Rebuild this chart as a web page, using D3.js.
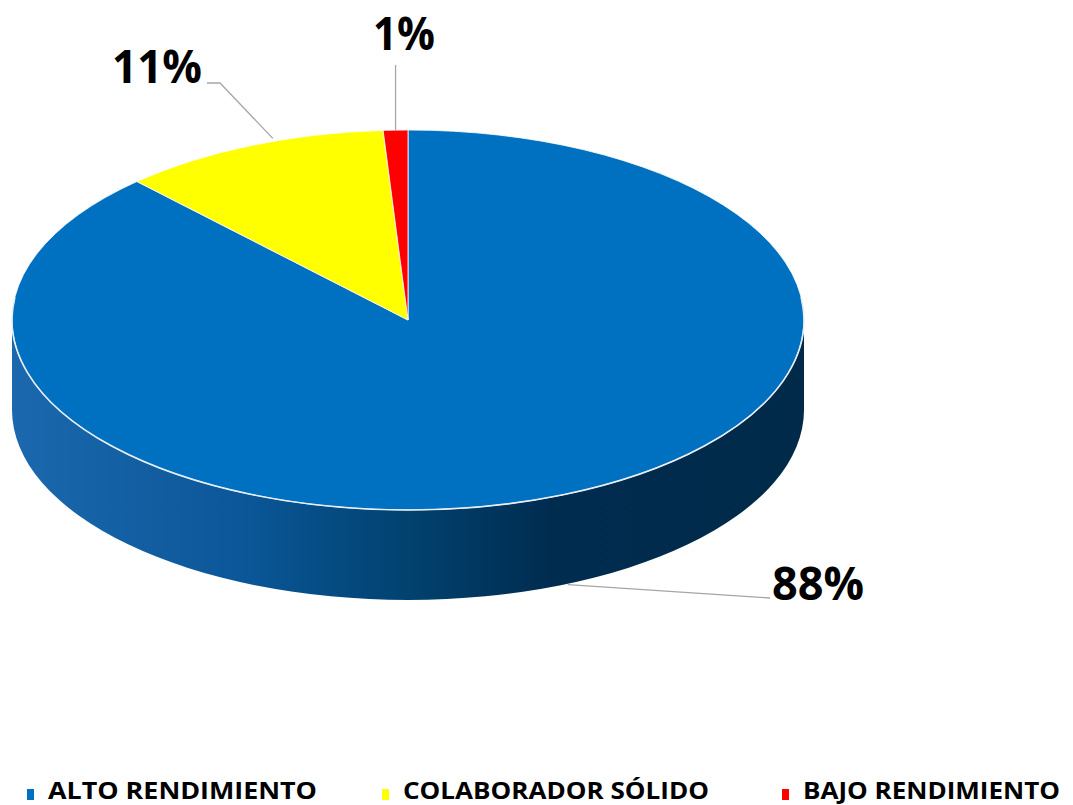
<!DOCTYPE html>
<html>
<head>
<meta charset="utf-8">
<script src="https://cdn.jsdelivr.net/npm/d3@7"></script>
<style>
  html, body { margin: 0; padding: 0; background: #ffffff; }
  svg { display: block; }
  text { font-family: "Open Sans", "Liberation Sans", sans-serif; font-weight: 700; fill: #000; }
</style>
</head>
<body>
<svg id="chart" width="1073" height="805"></svg>
<script>
// Performance distribution
const categories = ["ALTO RENDIMIENTO", "COLABORADOR SÓLIDO", "BAJO RENDIMIENTO"];
const shares = [88, 11, 1];
const shareLabels = ["88%", "11%", "1%"];
const sliceColors = ["#0070C0", "#FFFF00", "#FF0000"];

const svg = d3.select("#chart");

// Ellipse geometry of the tilted pie
const cx = 408, cy = 320, rx = 396, ry = 190, depth = 90;

const color = d3.scaleOrdinal().domain(categories).range(sliceColors);
const sideColor = d3.scaleOrdinal().domain(categories).range(["#0a5aa0", "#b8b800", "#b00000"]);

const pie = d3.pie().sort(null).startAngle(0).endAngle(2 * Math.PI).value(d => d.v);
const arcs = pie(categories.map((c, i) => ({ c, v: shares[i], label: shareLabels[i] })));

const pt = (a, dy = 0) => [cx + rx * Math.sin(a), cy - ry * Math.cos(a) + dy];

// Horizontal shading for the rim
const defs = svg.append("defs");
const grad = defs.append("linearGradient")
  .attr("id", "rimShade").attr("gradientUnits", "userSpaceOnUse")
  .attr("x1", cx - rx).attr("x2", cx + rx).attr("y1", 0).attr("y2", 0);
[[0, "#1c68ae"], [0.3, "#0a5697"], [0.5, "#01426f"], [0.68, "#002c50"], [1, "#002a48"]]
  .forEach(([o, c]) => grad.append("stop").attr("offset", o).attr("stop-color", c));

// Side walls: only the part of each slice facing the viewer (angles between 90° and 270°)
const front0 = Math.PI / 2, front1 = 3 * Math.PI / 2;
const sides = arcs.map(d => {
  const a0 = Math.max(d.startAngle, front0), a1 = Math.min(d.endAngle, front1);
  return a1 > a0 ? { d, a0, a1 } : null;
}).filter(Boolean);

function sidePath(a0, a1) {
  const p0 = pt(a0), p1 = pt(a1), q1 = pt(a1, depth), q0 = pt(a0, depth);
  const large = (a1 - a0) > Math.PI + 1e-9 ? 1 : 0;
  return `M${p0}A${rx},${ry} 0 ${large} 1 ${p1}L${q1}A${rx},${ry} 0 ${large} 0 ${q0}Z`;
}

svg.append("g").selectAll("path").data(sides).join("path")
  .attr("d", s => sidePath(s.a0, s.a1))
  .attr("fill", s => s.d.data.c === categories[0] ? "url(#rimShade)" : sideColor(s.d.data.c));

// Top face slices
function topPath(d) {
  const p0 = pt(d.startAngle), p1 = pt(d.endAngle);
  const large = (d.endAngle - d.startAngle) > Math.PI ? 1 : 0;
  return `M${cx},${cy}L${p0}A${rx},${ry} 0 ${large} 1 ${p1}Z`;
}
svg.append("g").selectAll("path").data(arcs).join("path")
  .attr("d", topPath)
  .attr("fill", d => color(d.data.c))
  .attr("stroke", "#ffffff").attr("stroke-width", 0.8).attr("stroke-linejoin", "round");

// Light edge along the front rim
svg.append("path")
  .attr("d", `M${pt(front0 - 0.12)}A${rx},${ry} 0 1 1 ${pt(front1 + 0.12)}`)
  .attr("fill", "none").attr("stroke", "#e8eef5").attr("stroke-width", 1.6);

// Data labels with leader lines
const labelLayout = [
  { dy: depth, shift: 0, pts: [[770, 598]], text: [772, 600], anchor: "start", width: 92 },
  { dy: 0, shift: 0.06, pts: [[220, 83], [207, 83]], text: [202, 83], anchor: "end", width: 90 },
  { dy: 0, shift: 0, pts: null, text: [404, 50], anchor: "middle", width: 62, vertical: 65 }
];

const lg = svg.append("g");
arcs.forEach((d, i) => {
  const L = labelLayout[i];
  const mid = (d.startAngle + d.endAngle) / 2 + L.shift;
  const start = pt(mid, L.dy);
  let pts;
  if (L.vertical) pts = [start, [start[0], L.vertical]];
  else if (i === 0) pts = [[start[0] + 14, start[1] - 2], ...L.pts];
  else pts = [[start[0], start[1] - 3], ...L.pts];
  lg.append("path").attr("d", d3.line()(pts))
    .attr("fill", "none").attr("stroke", "#a6a6a6").attr("stroke-width", 1.3);
  lg.append("text")
    .attr("x", L.anchor === "end" ? L.text[0] - L.width : L.anchor === "middle" ? L.text[0] - L.width / 2 : L.text[0])
    .attr("y", L.text[1])
    .attr("font-size", 47)
    .attr("textLength", L.width).attr("lengthAdjust", "spacingAndGlyphs")
    .text(d.data.label);
});

// Legend
const legendX = [27, 382, 782];
const legendW = [269, 306, 257];
const leg = svg.append("g").selectAll("g").data(categories).join("g")
  .attr("transform", (c, i) => `translate(${legendX[i]},0)`);
leg.append("rect").attr("x", 0).attr("y", 789).attr("width", 7).attr("height", 11)
  .attr("fill", c => color(c));
leg.append("text").attr("x", 21).attr("y", 799).attr("font-size", 23)
  .attr("textLength", (c, i) => legendW[i]).attr("lengthAdjust", "spacingAndGlyphs")
  .text(c => c);
</script>
</body>
</html>
